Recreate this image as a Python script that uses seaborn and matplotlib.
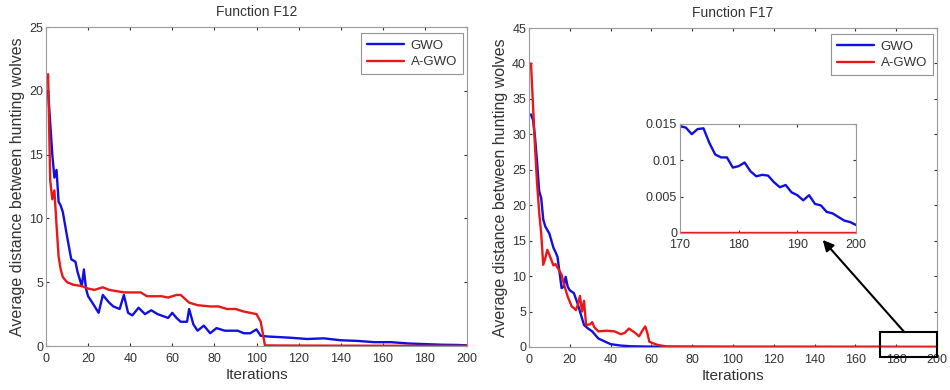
import matplotlib
matplotlib.use("Agg")
import matplotlib.pyplot as plt
import seaborn as sns
import pandas as pd
from matplotlib.patches import Rectangle

# ---------------- data ----------------
series_names = ["GWO", "A-GWO"]
titles = ["Function F12", "Function F17"]

# Function F12
f12_gwo_iter = [1, 2, 3, 4, 5, 6, 7, 8, 10, 12,
                14, 15, 17, 18, 19, 20, 22, 25, 27, 30,
                32, 35, 37, 39, 41, 44, 47, 50, 53, 58,
                60, 62, 64, 67, 68, 70, 72, 75, 78, 81,
                85, 91, 94, 97, 100, 102, 105, 116, 124, 132,
                140, 148, 156, 164, 172, 180, 188, 196, 200]
f12_gwo_val = [20.0, 17.5, 15.0, 13.2, 13.8, 11.3, 11.0, 10.5, 8.6, 6.8,
               6.6, 5.8, 4.7, 6.0, 4.5, 3.9, 3.4, 2.6, 4.0, 3.4,
               3.1, 2.9, 4.0, 2.6, 2.4, 3.0, 2.5, 2.8, 2.5, 2.2,
               2.6, 2.2, 1.9, 1.9, 2.9, 1.7, 1.2, 1.6, 1.0, 1.4,
               1.2, 1.2, 1.0, 1.0, 1.3, 0.8, 0.75, 0.65, 0.55, 0.6,
               0.45, 0.4, 0.3, 0.3, 0.2, 0.15, 0.1, 0.08, 0.05]

f12_agwo_iter = [1, 2, 3, 4, 5, 6, 7, 8, 10, 13,
                 17, 20, 23, 27, 30, 37, 45, 48, 55, 58,
                 62, 64, 66, 68, 72, 78, 82, 86, 90, 94,
                 97, 100, 102, 103, 104, 110, 130, 160, 200]
f12_agwo_val = [21.3, 13.0, 11.5, 12.2, 9.5, 7.0, 6.0, 5.4, 5.0, 4.8,
                4.7, 4.5, 4.4, 4.6, 4.4, 4.2, 4.2, 3.9, 3.9, 3.8,
                4.0, 4.0, 3.7, 3.4, 3.2, 3.1, 3.1, 2.9, 2.9, 2.7,
                2.6, 2.5, 1.9, 1.0, 0.05, 0.04, 0.03, 0.02, 0.01]

# Function F17 (main view, iterations 1-160)
f17_gwo_iter = [1, 2, 3, 4, 5, 6, 7, 8, 10, 12,
                13, 14, 16, 17, 18, 19, 20, 22, 24, 25,
                27, 29, 31, 34, 37, 40, 45, 50, 60, 80,
                100, 130, 160]
f17_gwo_val = [32.8, 32.0, 29.5, 26.0, 22.0, 21.0, 18.0, 17.0, 16.0, 14.0,
               13.4, 12.7, 8.3, 8.5, 9.9, 8.5, 8.0, 7.6, 6.0, 5.0,
               3.1, 2.6, 2.2, 1.2, 0.8, 0.4, 0.2, 0.1, 0.05, 0.03,
               0.025, 0.02, 0.016]

f17_agwo_iter = [1, 3, 4, 5, 6, 7, 8, 9, 10, 12,
                 13, 14, 16, 17, 19, 21, 22, 23, 24, 25,
                 26, 27, 28, 30, 31, 32, 34, 38, 42, 45,
                 47, 49, 52, 54, 56, 57, 58, 59, 61, 63,
                 67, 70, 100, 170]
f17_agwo_val = [40.0, 28.0, 23.0, 19.0, 16.0, 11.6, 12.5, 13.7, 13.0, 11.5,
                11.7, 11.2, 10.2, 9.0, 7.1, 5.7, 5.5, 5.2, 6.0, 7.2,
                5.0, 6.5, 3.1, 3.2, 3.5, 2.8, 2.2, 2.3, 2.2, 1.8,
                2.0, 2.6, 2.0, 1.5, 2.5, 2.9, 2.0, 0.75, 0.5, 0.3,
                0.1, 0.05, 0.01, 0.0]

# Function F17 zoom (iterations 170-200)
zoom_iter = list(range(170, 201))
zoom_gwo_val = [0.0147, 0.0145, 0.0136, 0.0143, 0.0144, 0.0124, 0.0108, 0.0104, 0.0104, 0.0090,
                0.0092, 0.0097, 0.0085, 0.0078, 0.0080, 0.0079, 0.0070, 0.0063, 0.0066, 0.0056,
                0.0052, 0.0045, 0.0052, 0.0040, 0.0038, 0.0029, 0.0027, 0.0022, 0.0017, 0.0015,
                0.0011]
zoom_agwo_val = [0.0] * 31

f12_yticks = [0, 5, 10, 15, 20, 25]
f17_yticks = [0, 5, 10, 15, 20, 25, 30, 35, 40, 45]
xticks_main = [0, 20, 40, 60, 80, 100, 120, 140, 160, 180, 200]
zoom_xticks = [170, 180, 190, 200]
zoom_yticks = [0, 0.005, 0.01, 0.015]
zoom_ytick_labels = ["0", "0.005", "0.01", "0.015"]

# ---------------- style ----------------
sns.set_theme(style="white")
plt.rcParams["font.family"] = ["Liberation Sans", "DejaVu Sans"]
BLUE = "#1010e0"
RED = "#e81818"
TXT = "#333333"
SPINE = "#9a9a9a"

fig = plt.figure(figsize=(9.5, 3.9), dpi=100)
ax1 = fig.add_axes([0.0484, 0.1128, 0.4432, 0.8179])
ax2 = fig.add_axes([0.5568, 0.1103, 0.4295, 0.8179])
axin = fig.add_axes([0.7158, 0.4026, 0.1853, 0.2795])


def style_axes(ax, fs=9, xpad=5, ypad=2):
    for s in ax.spines.values():
        s.set_color(SPINE)
        s.set_linewidth(0.8)
    ax.tick_params(direction="in", length=2.5, width=0.8, colors=TXT,
                   labelsize=fs, top=True, right=True, bottom=True, left=True)
    ax.tick_params(axis="x", pad=xpad)
    ax.tick_params(axis="y", pad=ypad)


def draw(ax, xs, ys, color, label, lw=1.7):
    df = pd.DataFrame({"x": xs, "y": ys})
    sns.lineplot(data=df, x="x", y="y", ax=ax, color=color, lw=lw,
                 label=label, estimator=None, sort=False)


# Left panel F12
draw(ax1, f12_gwo_iter, f12_gwo_val, BLUE, series_names[0])
draw(ax1, f12_agwo_iter, f12_agwo_val, RED, series_names[1])
ax1.set_xlim(0, 200)
ax1.set_ylim(0, 25)
ax1.set_xticks(xticks_main)
ax1.set_yticks(f12_yticks)
style_axes(ax1)
ax1.set_title(titles[0], fontsize=10, color=TXT, pad=8)
ax1.set_xlabel("Iterations", fontsize=11, color=TXT, labelpad=2)
ax1.set_ylabel("Average distance between hunting wolves", fontsize=11.5,
               color=TXT, labelpad=3)

# Right panel F17
draw(ax2, f17_gwo_iter + zoom_iter, f17_gwo_val + zoom_gwo_val, BLUE, series_names[0])
draw(ax2, f17_agwo_iter + zoom_iter, f17_agwo_val + zoom_agwo_val, RED, series_names[1])
ax2.set_xlim(0, 200)
ax2.set_ylim(0, 45)
ax2.set_xticks(xticks_main)
ax2.set_yticks(f17_yticks)
style_axes(ax2)
ax2.set_title(titles[1], fontsize=10, color=TXT, pad=8)
ax2.set_xlabel("Iterations", fontsize=11, color=TXT, labelpad=2)
ax2.set_ylabel("Average distance between hunting wolves", fontsize=11.5,
               color=TXT, labelpad=3)

for ax in (ax1, ax2):
    leg = ax.legend(loc="upper right", bbox_to_anchor=(0.99, 0.98),
                    borderaxespad=0, fontsize=9.5, frameon=True, fancybox=False,
                    handlelength=2.8, handletextpad=0.5, borderpad=0.45,
                    labelspacing=0.35)
    leg.get_frame().set_edgecolor("#777777")
    leg.get_frame().set_linewidth(0.8)
    for t in leg.get_texts():
        t.set_color(TXT)

# Inset
draw(axin, zoom_iter, zoom_gwo_val, BLUE, None)
draw(axin, zoom_iter, zoom_agwo_val, RED, None)
axin.set_xlim(170, 200)
axin.set_ylim(0, 0.015)
axin.set_xticks(zoom_xticks)
axin.set_yticks(zoom_yticks)
axin.set_yticklabels(zoom_ytick_labels)
style_axes(axin, fs=9, xpad=4.5, ypad=2)
axin.set_xlabel("")
axin.set_ylabel("")
if axin.get_legend() is not None:
    axin.get_legend().remove()

# Zoom box and arrow on the right panel
rect = Rectangle((172, -1.4), 28, 3.5, fill=False, edgecolor="black",
                 linewidth=1.5, clip_on=False, zorder=5)
ax2.add_patch(rect)
ax2.annotate("", xy=(144, 15.1), xytext=(184, 2.1),
             arrowprops=dict(arrowstyle="-|>", color="black", lw=1.5,
                             mutation_scale=16, shrinkA=0, shrinkB=0),
             annotation_clip=False, zorder=6)

fig.savefig("out.png", dpi=100)
